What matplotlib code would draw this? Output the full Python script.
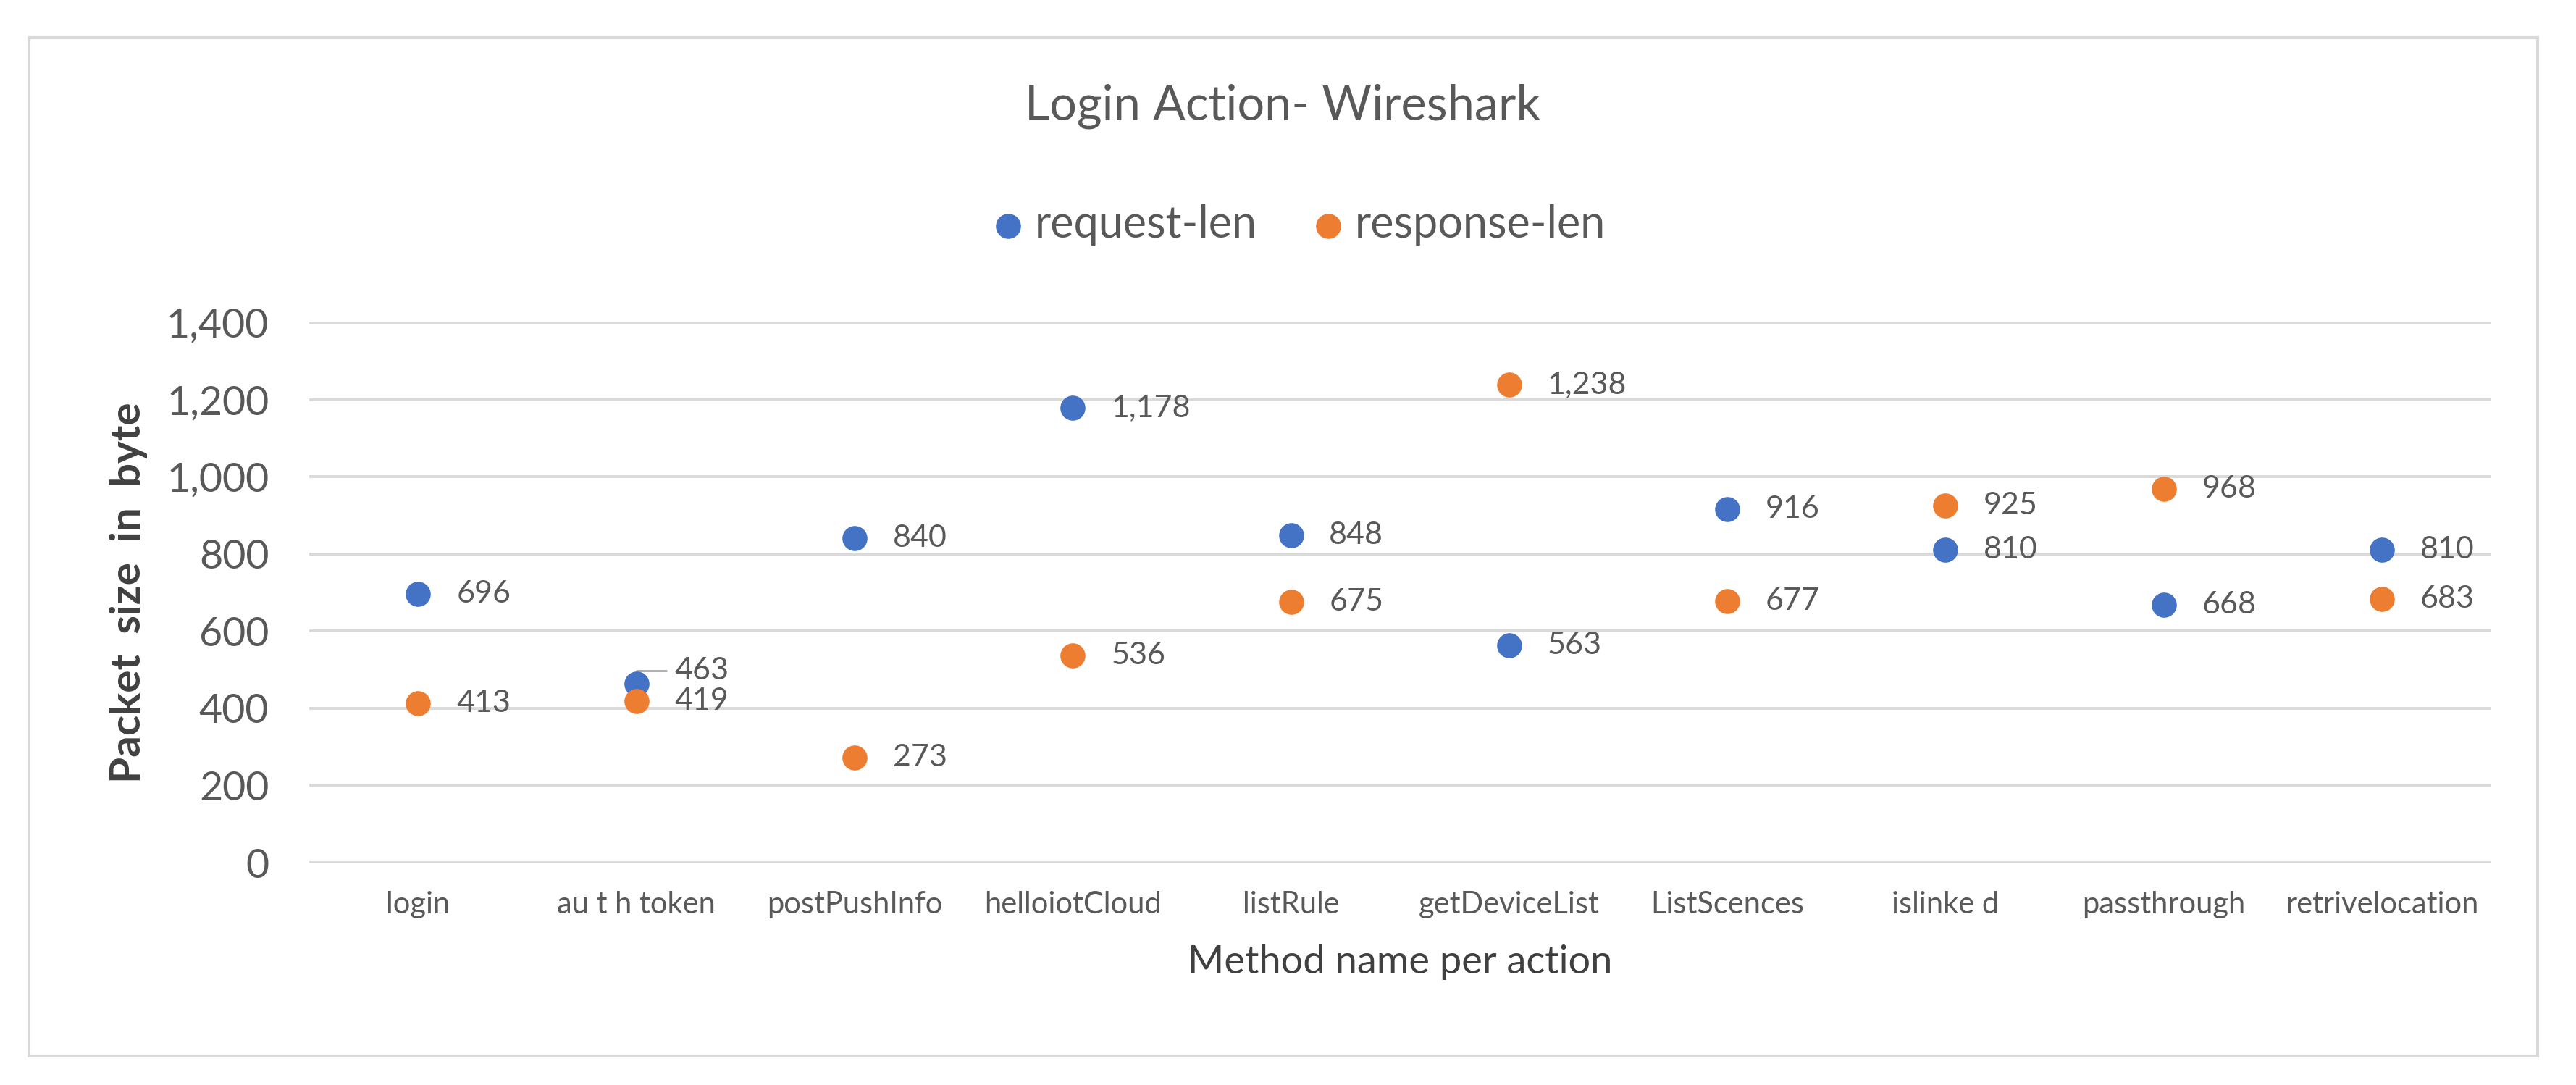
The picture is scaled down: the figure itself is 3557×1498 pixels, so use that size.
import matplotlib.pyplot as plt
from matplotlib.patches import Rectangle
from matplotlib.ticker import StrMethodFormatter
import numpy as np

methods = ['login', 'au t h token', 'postPushInfo', 'helloiotCloud', 'listRule',
           'getDeviceList', 'ListScences', 'islinke d', 'passthrough', 'retrivelocation']
request_len = [696, 463, 840, 1178, 848, 563, 916, 810, 668, 810]
response_len = [413, 419, 273, 536, 675, 1238, 677, 925, 968, 683]
y_ticks = [0, 200, 400, 600, 800, 1000, 1200, 1400]

BLUE = '#4472C4'
ORANGE = '#ED7D31'
GRAY = '#595959'
GRID = '#D9D9D9'


def main():
	plt.rcParams['font.family'] = ['Lato', 'DejaVu Sans']
	fig = plt.figure(figsize=(35.57, 14.98), dpi=100)
	fig.patch.set_facecolor('white')

	# outer chart border
	fig.patches.append(Rectangle((0.0112, 0.0267), 0.974, 0.9386, transform=fig.transFigure,
	                             fill=False, edgecolor=GRID, linewidth=3))

	ax = fig.add_axes([0.120, 0.2049, 0.847, 0.498])
	idx = np.arange(len(methods))

	ax.scatter(idx, request_len, s=620, color=BLUE, label='request-len', zorder=3, linewidths=0)
	ax.scatter(idx, response_len, s=620, color=ORANGE, label='response-len', zorder=4, linewidths=0)

	for i in idx:
		if methods[i] == 'au t h token':
			# label moved up with a leader line, like the original
			ax.annotate(f'{request_len[i]:,}', (i, request_len[i]), xytext=(38, 13),
			            textcoords='offset points', ha='left', va='center', fontsize=31, color=GRAY,
			            zorder=2,
			            arrowprops=dict(arrowstyle='-', color='#A6A6A6', lw=2, shrinkA=6, shrinkB=0,
			                            relpos=(0, 0.5), connectionstyle='angle,angleA=0,angleB=90,rad=0'))
		else:
			ax.annotate(f'{request_len[i]:,}', (i, request_len[i]), xytext=(38, 0),
			            textcoords='offset points', ha='left', va='center', fontsize=31, color=GRAY)
		ax.annotate(f'{response_len[i]:,}', (i, response_len[i]), xytext=(38, 0),
		            textcoords='offset points', ha='left', va='center', fontsize=31, color=GRAY)

	ax.set_xlim(-0.5, len(methods) - 0.5)
	ax.set_ylim(0, 1400)
	ax.set_yticks(y_ticks)
	ax.yaxis.set_major_formatter(StrMethodFormatter('{x:,.0f}'))
	ax.set_xticks(idx)
	ax.set_xticklabels(methods)
	ax.grid(axis='y', color=GRID, linewidth=2.8, zorder=0)
	ax.set_axisbelow(True)
	for s in ax.spines.values():
		s.set_visible(False)
	ax.tick_params(axis='y', length=0, pad=40, labelsize=40, labelcolor=GRAY)
	ax.tick_params(axis='x', length=0, pad=28, labelsize=30, labelcolor=GRAY)

	ax.set_xlabel('Method name per action', fontsize=39, color='#404040', labelpad=26)
	ax.set_ylabel('Packet  size  in  byte', fontsize=42, fontweight='bold', color='#404040')
	ax.yaxis.set_label_coords(-0.074, 0.5)

	fig.text(0.498, 0.902, 'Login Action- Wireshark', ha='center', va='center',
	         fontsize=48, color=GRAY)
	fig.legend(loc='center', bbox_to_anchor=(0.503, 0.793), ncol=2, frameon=False,
	           fontsize=44, labelcolor=GRAY, handlelength=1.0, handletextpad=0.1,
	           columnspacing=1.1, markerscale=1.0)

	fig.savefig('out.png', dpi=100, facecolor='white')


if __name__ == '__main__':
	main()
